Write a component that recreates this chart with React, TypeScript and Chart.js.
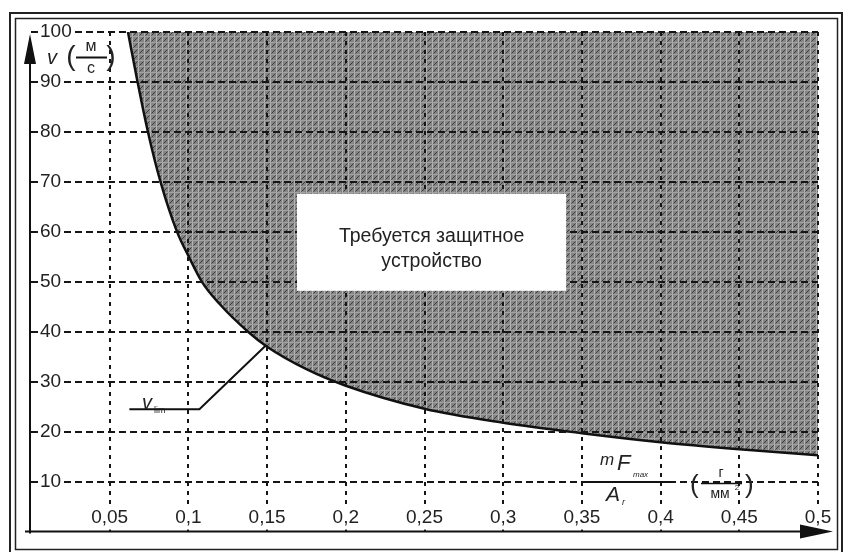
import React, { useEffect, useRef } from 'react';
import { Chart, registerables } from 'chart.js';

Chart.register(...registerables);

// Curve v_lim (x = mF_max / A_r, v in m/s)
const curveX = [0.0616, 0.0677, 0.0743, 0.0823, 0.0928, 0.1, 0.1086, 0.12, 0.1379, 0.15, 0.175, 0.2, 0.25, 0.3, 0.35, 0.4, 0.45, 0.5];
const curveV = [100, 90, 80, 70, 60, 55.2, 50, 45.5, 40, 37, 32.5, 29.2, 24.6, 21.8, 19.7, 17.9, 16.5, 15.3];

const xTickValues = [0.05, 0.1, 0.15, 0.2, 0.25, 0.3, 0.35, 0.4, 0.45, 0.5];
const yTickValues = [10, 20, 30, 40, 50, 60, 70, 80, 90, 100];

const boxLines = ['Требуется защитное', 'устройство'];
const curveLabel = 'v';
const curveLabelSub = 'lim';

const FONT = '"Liberation Sans", Arial, sans-serif';

function formatX(v: number): string {
  return String(parseFloat(v.toFixed(2))).replace('.', ',');
}

function makePattern(ctx: CanvasRenderingContext2D): CanvasPattern | string {
  const c = document.createElement('canvas');
  c.width = 6;
  c.height = 6;
  const g = c.getContext('2d');
  if (!g) return '#888';
  g.fillStyle = '#858585';
  g.fillRect(0, 0, 6, 6);
  g.fillStyle = '#b4b4b4';
  g.fillRect(0, 0, 1, 6);
  g.fillStyle = '#a2a2a2';
  g.fillRect(0, 0, 6, 1);
  g.strokeStyle = '#3a3a3a';
  g.lineWidth = 1;
  g.beginPath();
  g.moveTo(1.5, 5.5);
  g.lineTo(5.5, 1.5);
  g.stroke();
  return ctx.createPattern(c, 'repeat') || '#888';
}

const decorPlugin = {
  id: 'decor',
  beforeDraw(chart: any) {
    const { ctx, width, height } = chart;
    ctx.save();
    ctx.fillStyle = '#ffffff';
    ctx.fillRect(0, 0, width, height);
    ctx.restore();
  },
  afterDraw(chart: any) {
    const { ctx, chartArea: a, scales } = chart;
    const x = scales.x;
    const y = scales.y;
    ctx.save();

    // double frame
    ctx.strokeStyle = '#222';
    ctx.lineWidth = 2;
    ctx.strokeRect(10, 13, 832, 540);
    ctx.lineWidth = 1.5;
    ctx.strokeRect(15.5, 18.5, 822, 531);

    // axes with arrows
    ctx.strokeStyle = '#111';
    ctx.fillStyle = '#111';
    ctx.lineWidth = 2;
    const ax = a.left - 1;
    ctx.beginPath();
    ctx.moveTo(ax, a.bottom + 2);
    ctx.lineTo(ax, a.top + 20);
    ctx.stroke();
    ctx.beginPath();
    ctx.moveTo(ax, a.top + 2);
    ctx.lineTo(ax - 6, a.top + 32);
    ctx.lineTo(ax + 6, a.top + 32);
    ctx.closePath();
    ctx.fill();

    ctx.beginPath();
    ctx.moveTo(a.left - 6, a.bottom);
    ctx.lineTo(a.right - 5, a.bottom);
    ctx.stroke();
    ctx.beginPath();
    ctx.moveTo(a.right + 15, a.bottom);
    ctx.lineTo(a.right - 18, a.bottom - 7);
    ctx.lineTo(a.right - 18, a.bottom + 7);
    ctx.closePath();
    ctx.fill();

    // white label box
    const bx0 = x.getPixelForValue(0.169);
    const bx1 = x.getPixelForValue(0.34);
    const by0 = y.getPixelForValue(67.6);
    const by1 = y.getPixelForValue(48.2);
    ctx.fillStyle = '#ffffff';
    ctx.fillRect(bx0, by0, bx1 - bx0, by1 - by0);
    ctx.fillStyle = '#222';
    ctx.font = `19.5px ${FONT}`;
    ctx.textAlign = 'center';
    ctx.textBaseline = 'middle';
    const cx = (bx0 + bx1) / 2;
    ctx.fillText(boxLines[0], cx, y.getPixelForValue(59.0));
    ctx.fillText(boxLines[1], cx, y.getPixelForValue(54.0));

    // v_lim leader
    ctx.strokeStyle = '#111';
    ctx.lineWidth = 2;
    ctx.beginPath();
    ctx.moveTo(x.getPixelForValue(0.0625), y.getPixelForValue(24.5));
    ctx.lineTo(x.getPixelForValue(0.107), y.getPixelForValue(24.5));
    ctx.lineTo(x.getPixelForValue(0.149), y.getPixelForValue(37.2));
    ctx.stroke();
    ctx.fillStyle = '#222';
    ctx.textAlign = 'left';
    ctx.font = `italic 20px ${FONT}`;
    ctx.fillText(curveLabel, 142, 403);
    ctx.font = `9px ${FONT}`;
    ctx.fillText(curveLabelSub, 154, 411);

    // y-axis title: v (м/с)
    ctx.textAlign = 'center';
    ctx.font = `italic 20px ${FONT}`;
    ctx.fillText('v', 52, 58);
    ctx.font = `28px ${FONT}`;
    ctx.fillText('(', 71, 57);
    ctx.fillText(')', 111, 57);
    ctx.font = `16px ${FONT}`;
    ctx.fillText('м', 91, 47);
    ctx.fillText('с', 91, 69);
    ctx.lineWidth = 2;
    ctx.beginPath();
    ctx.moveTo(76, 57.5);
    ctx.lineTo(107, 57.5);
    ctx.stroke();

    // x-axis title: mF_max / A_r (г/мм²)
    ctx.textAlign = 'left';
    ctx.font = `italic 17px ${FONT}`;
    ctx.fillText('m', 600, 460);
    ctx.font = `italic 22px ${FONT}`;
    ctx.fillText('F', 617, 464);
    ctx.font = `italic 8px ${FONT}`;
    ctx.fillText('max', 633, 475);
    ctx.font = `italic 21px ${FONT}`;
    ctx.fillText('A', 606, 495);
    ctx.font = `italic 9px ${FONT}`;
    ctx.fillText('r', 622, 502);
    ctx.lineWidth = 2;
    ctx.beginPath();
    ctx.moveTo(585, 482);
    ctx.lineTo(671, 482);
    ctx.stroke();
    ctx.font = `26px ${FONT}`;
    ctx.fillText('(', 690, 486);
    ctx.fillText(')', 745, 486);
    ctx.textAlign = 'center';
    ctx.font = `14px ${FONT}`;
    ctx.fillText('г', 721, 473);
    ctx.fillText('мм', 720, 494);
    ctx.font = `8px ${FONT}`;
    ctx.fillText('2', 737, 488);
    ctx.lineWidth = 1.5;
    ctx.beginPath();
    ctx.moveTo(701, 483.5);
    ctx.lineTo(742, 483.5);
    ctx.stroke();

    ctx.restore();
  },
};

export default function App() {
  const ref = useRef<HTMLCanvasElement | null>(null);

  useEffect(() => {
    const canvas = ref.current;
    if (!canvas) return;
    const ctx2d = canvas.getContext('2d') as CanvasRenderingContext2D;
    const pattern = makePattern(ctx2d);

    const tickFont = { family: FONT, size: 19 };

    const chart = new Chart(canvas, {
      type: 'line',
      data: {
        datasets: [
          {
            data: curveX.map((xv, i) => ({ x: xv, y: curveV[i] })),
            borderColor: '#111',
            borderWidth: 2.5,
            pointRadius: 0,
            fill: 'end',
            backgroundColor: pattern as any,
            cubicInterpolationMode: 'monotone',
          },
        ],
      },
      options: {
        animation: false,
        responsive: false,
        events: [],
        layout: { padding: { left: 31, right: 26, top: 32, bottom: 0 } },
        plugins: {
          legend: { display: false },
          tooltip: { enabled: false },
        },
        scales: {
          x: {
            type: 'linear',
            position: 'bottom',
            min: 0,
            max: 0.5,
            afterBuildTicks: (s: any) => {
              s.ticks = xTickValues.map((v) => ({ value: v }));
            },
            afterFit: (s: any) => {
              s.height = 13;
            },
            grid: { color: '#151515', lineWidth: 2, drawTicks: false, z: 1 },
            border: { display: false, dash: [4, 5] },
            ticks: {
              z: 2,
              mirror: true,
              padding: 2,
              autoSkip: false,
              maxRotation: 0,
              font: tickFont,
              color: '#222',
              showLabelBackdrop: true,
              backdropColor: '#ffffff',
              backdropPadding: { x: 2, y: 0 },
              callback: (v: any) => formatX(Number(v)),
            },
          },
          y: {
            type: 'linear',
            position: 'left',
            min: 0,
            max: 100,
            afterBuildTicks: (s: any) => {
              s.ticks = yTickValues.map((v) => ({ value: v }));
            },
            afterFit: (s: any) => {
              s.width = 0;
            },
            grid: { color: '#151515', lineWidth: 2, drawTicks: false, z: 1 },
            border: { display: false, dash: [7, 4] },
            ticks: {
              z: 2,
              mirror: true,
              padding: 9,
              autoSkip: false,
              font: tickFont,
              color: '#222',
              showLabelBackdrop: true,
              backdropColor: '#ffffff',
              backdropPadding: { x: 1, y: 0 },
              callback: (v: any) => String(v),
            },
          },
        },
      },
      plugins: [decorPlugin],
    } as any);

    return () => chart.destroy();
  }, []);

  return (
    <div style={{ position: 'absolute', left: 0, top: 0, width: 844, height: 552 }}>
      <canvas ref={ref} width={844} height={552} style={{ display: 'block', width: 844, height: 552 }} />
    </div>
  );
}
